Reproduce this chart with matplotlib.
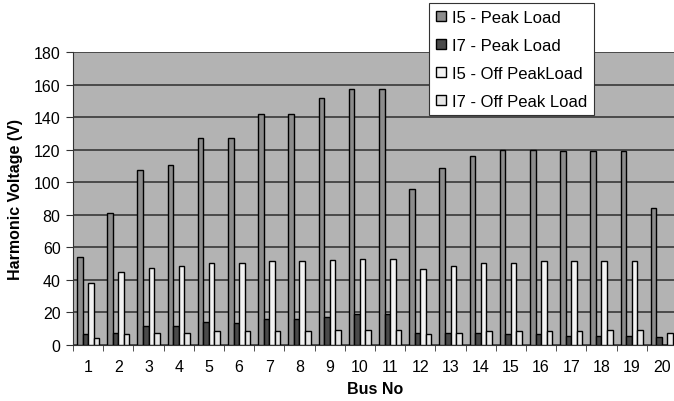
import matplotlib.pyplot as plt
import numpy as np

plt.rcParams['font.family'] = ['Liberation Sans', 'DejaVu Sans']

buses = [str(i) for i in range(1, 21)]
i5_peak = [54, 81, 107.5, 110.5, 127, 127, 142, 142, 152, 157.5,
           157.5, 96, 108.5, 116, 119.5, 119.5, 119, 119, 119, 84]
i7_peak = [6.5, 7.5, 11.5, 11.5, 14, 13.5, 16, 16, 17.5, 19,
           19, 7.5, 7.5, 7.5, 6.5, 6.5, 5.7, 5.7, 5.7, 4.7]
i5_off = [38, 45, 47.5, 48.5, 50.5, 50.5, 51.5, 51.5, 52.5, 53,
          53, 46.5, 48.5, 50.5, 50.5, 51.5, 51.5, 51.5, 51.5, 0]
i7_off = [4, 6.5, 7.5, 7.5, 8.5, 8.5, 8.5, 8.5, 9.5, 9.5,
          9.5, 6.5, 7.5, 8.5, 8.5, 8.5, 8.5, 9.5, 9.5, 7.5]

series = [
    (i5_peak, '#8c8c8c', 'I5 - Peak Load'),
    (i7_peak, '#4a4a4a', 'I7 - Peak Load'),
    (i5_off, '#f2f2f2', 'I5 - Off PeakLoad'),
    (i7_off, '#e6e6e6', 'I7 - Off Peak Load'),
]

fig = plt.figure( figsize = ( 6.74, 4.02 ), dpi = 100 )
ax = fig.add_axes( [ 73 / 674, 56 / 402, 604 / 674, 293 / 402 ] )
ax.set_facecolor( '#b3b3b3' )

x = np.arange( 1, len( buses ) + 1 )
w = 0.185
for k, ( vals, col, lab ) in enumerate( series ):
    ax.bar( x + ( k - 1.5 ) * w, vals, width = w, color = col,
            edgecolor = 'black', linewidth = 1.0, label = lab, zorder = 3 )

ax.set_xlim( 0.5, 20.5 )
ax.set_ylim( 0, 180 )
ax.set_yticks( np.arange( 0, 181, 20 ) )
ax.yaxis.grid( True, color = '#383838', linewidth = 1.2, zorder = 0 )
ax.set_axisbelow( True )

ax.set_xticks( x )
ax.set_xticklabels( buses )
ax.set_xticks( np.arange( 0.5, 21, 1 ), minor = True )
ax.tick_params( axis = 'x', which = 'major', length = 0, pad = 10, labelsize = 11.5 )
ax.tick_params( axis = 'x', which = 'minor', length = 4, color = '#333333' )
ax.tick_params( axis = 'y', length = 5, labelsize = 11.5, color = '#333333', pad = 4 )

for s in [ 'top', 'right' ]:
    ax.spines[ s ].set_visible( False )
for s in [ 'left', 'bottom' ]:
    ax.spines[ s ].set_color( '#333333' )

ax.set_xlabel( 'Bus No', fontsize = 11.5, fontweight = 'bold', labelpad = 5 )
ax.set_ylabel( 'Harmonic Voltage (V)', fontsize = 11.5, fontweight = 'bold', labelpad = 8 )

leg = fig.legend( loc = 'upper left', bbox_to_anchor = ( 429 / 674, 1 - 4 / 402 ),
                  fontsize = 12, handlelength = 0.6, handleheight = 0.6,
                  handletextpad = 0.4, labelspacing = 0.78, borderpad = 0.4,
                  frameon = True, fancybox = False, framealpha = 1.0,
                  borderaxespad = 0 )
leg.get_frame().set_edgecolor( '#333333' )
leg.get_frame().set_linewidth( 0.8 )

fig.savefig( 'out.png', dpi = 100 )
